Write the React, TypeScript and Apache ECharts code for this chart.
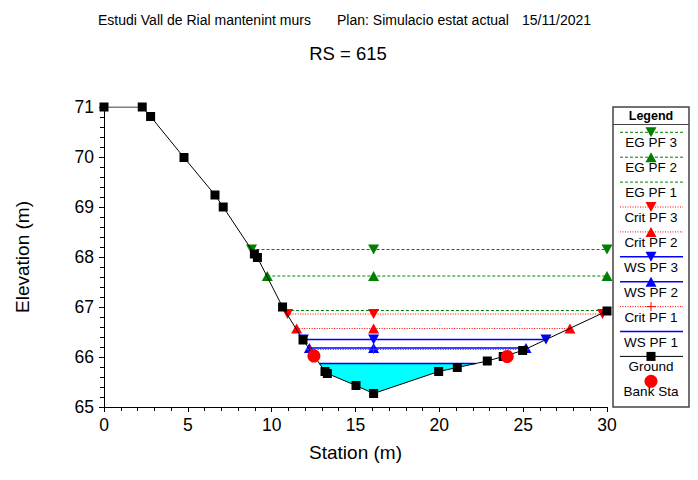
import React, { useEffect, useRef } from 'react';
import * as echarts from 'echarts';

const FONT = '"Liberation Sans", Arial, Helvetica, sans-serif';

// ---- Data ----
const groundX = [0, 2.28, 2.78, 4.77, 6.62, 7.11, 8.97, 9.15, 10.65, 11.87, 13.18, 13.32, 15.03, 16.08, 19.96, 21.07, 22.86, 23.81, 24.97, 30];
const groundY = [71, 71, 70.81, 69.99, 69.24, 69.0, 68.06, 67.99, 67.0, 66.34, 65.71, 65.67, 65.43, 65.27, 65.71, 65.79, 65.92, 66.01, 66.13, 66.92];
const bankX = [12.52, 24.05];
const bankY = [66.02, 66.01];

const profileNames = ['EG PF 3', 'EG PF 2', 'EG PF 1', 'Crit PF 3', 'Crit PF 2', 'WS PF 3', 'WS PF 2', 'Crit PF 1', 'WS PF 1'];
const profileElev = [68.15, 67.62, 66.93, 66.86, 66.57, 66.35, 66.18, 66.15, 65.87];
const profileLeft = [8.8, 9.74, 10.85, 10.95, 11.49, 11.89, 12.25, 12.3, 12.85];
const profileRight = [30, 30, 30, 29.73, 27.79, 26.36, 25.17, 25.1, 22.17];
const channelCenter = 16.08;

const legendNames = [...profileNames, 'Ground', 'Bank Sta'];

const xMin = 0, xMax = 30, xStep = 5;
const yMin = 65, yMax = 71, yStep = 1;

const headerTexts = ['Estudi Vall de Rial mantenint murs', 'Plan: Simulacio estat actual', '15/11/2021'];
const subTitle = 'RS = 615';

// ---- Styles ----
const GREEN = '#008000';
const RED = '#FF0000';
const BLUE = '#0000FF';
type Marker = 'down' | 'up' | 'plus' | 'square' | 'circle' | 'none';
type Sty = { color: string; dash: number[] | null; width: number; marker: Marker; line: boolean };
const DASH = [3, 2];
const DOT = [1, 1.5];
const styles: Record<string, Sty> = {
  'EG PF 3': { color: GREEN, dash: DASH, width: 1, marker: 'down', line: true },
  'EG PF 2': { color: GREEN, dash: DASH, width: 1, marker: 'up', line: true },
  'EG PF 1': { color: GREEN, dash: DASH, width: 1, marker: 'none', line: true },
  'Crit PF 3': { color: RED, dash: DOT, width: 1, marker: 'down', line: true },
  'Crit PF 2': { color: RED, dash: DOT, width: 1, marker: 'up', line: true },
  'WS PF 3': { color: BLUE, dash: null, width: 1.5, marker: 'down', line: true },
  'WS PF 2': { color: BLUE, dash: null, width: 1.5, marker: 'up', line: true },
  'Crit PF 1': { color: RED, dash: DOT, width: 1, marker: 'plus', line: true },
  'WS PF 1': { color: BLUE, dash: null, width: 1.5, marker: 'none', line: true },
  'Ground': { color: '#000000', dash: null, width: 1, marker: 'square', line: true },
  'Bank Sta': { color: RED, dash: null, width: 1, marker: 'circle', line: false },
};

const PLUS_PATH = 'path://M4.5,0h1v4.5h4.5v1h-4.5v4.5h-1v-4.5h-4.5v-1h4.5z';
const TRI_W = 11, TRI_H = 10;

function symbolFor(m: Marker) {
  if (m === 'down' || m === 'up') return { symbol: 'triangle', symbolSize: [TRI_W, TRI_H], symbolRotate: m === 'down' ? 180 : 0 };
  if (m === 'plus') return { symbol: PLUS_PATH, symbolSize: 9, symbolRotate: 0 };
  if (m === 'square') return { symbol: 'rect', symbolSize: 9, symbolRotate: 0 };
  if (m === 'circle') return { symbol: 'circle', symbolSize: 13, symbolRotate: 0 };
  return { symbol: 'none', symbolSize: 0, symbolRotate: 0 };
}

function legendGraphic(): any[] {
  const L = 613, T = 107, W = 76, H = 300;
  const cx = L + W / 2;
  const hw = TRI_W / 2, hh = TRI_H / 2;
  const els: any[] = [];
  els.push({ type: 'rect', shape: { x: L, y: T, width: W, height: H }, style: { fill: '#fff', stroke: '#444', lineWidth: 1.5 }, z: 10 });
  els.push({ type: 'text', x: cx, y: T + 8.5, style: { text: 'Legend', fontSize: 12.5, fontWeight: 'bold', fontFamily: FONT, fill: '#000', align: 'center', verticalAlign: 'middle' }, z: 11 });
  els.push({ type: 'line', shape: { x1: L, y1: T + 17.5, x2: L + W, y2: T + 17.5 }, style: { stroke: '#444', lineWidth: 1 }, z: 11 });
  legendNames.forEach((name, i) => {
    const s = styles[name];
    const ly = T + 25.3 + 24.9 * i;
    if (s.line) {
      els.push({ type: 'line', shape: { x1: L + 7, y1: ly, x2: L + W - 6, y2: ly }, style: { stroke: s.color, lineWidth: s.width, lineDash: s.dash || undefined }, z: 11 });
    }
    if (s.marker === 'down') {
      els.push({ type: 'polygon', shape: { points: [[cx - hw, ly - hh], [cx + hw, ly - hh], [cx, ly + hh]] }, style: { fill: s.color }, z: 12 });
    } else if (s.marker === 'up') {
      els.push({ type: 'polygon', shape: { points: [[cx - hw, ly + hh], [cx + hw, ly + hh], [cx, ly - hh]] }, style: { fill: s.color }, z: 12 });
    } else if (s.marker === 'plus') {
      els.push({ type: 'line', shape: { x1: cx - 4.5, y1: ly, x2: cx + 4.5, y2: ly }, style: { stroke: s.color, lineWidth: 1 }, z: 12 });
      els.push({ type: 'line', shape: { x1: cx, y1: ly - 4.5, x2: cx, y2: ly + 4.5 }, style: { stroke: s.color, lineWidth: 1 }, z: 12 });
    } else if (s.marker === 'square') {
      els.push({ type: 'rect', shape: { x: cx - 4.5, y: ly - 4.5, width: 9, height: 9 }, style: { fill: s.color }, z: 12 });
    } else if (s.marker === 'circle') {
      els.push({ type: 'circle', shape: { cx, cy: ly, r: 6.5 }, style: { fill: s.color }, z: 12 });
    }
    els.push({ type: 'text', x: cx, y: ly + 10.5, style: { text: name, fontSize: 13.5, fontFamily: FONT, fill: '#000', align: 'center', verticalAlign: 'middle' }, z: 12 });
  });
  return els;
}

export default function App() {
  const ref = useRef<HTMLDivElement>(null);
  useEffect(() => {
    if (!ref.current) return;
    const chart = echarts.init(ref.current, null, { renderer: 'svg' });

    const ground = groundX.map((x, i) => [x, groundY[i]]);
    const wsIdx = profileNames.indexOf('WS PF 1');
    const wsY = profileElev[wsIdx];
    const wsL = profileLeft[wsIdx];
    const wsR = profileRight[wsIdx];
    const fillPoly: number[][] = [[wsL, wsY]];
    groundX.forEach((x, i) => { if (x > wsL && x < wsR) fillPoly.push([x, groundY[i]]); });
    fillPoly.push([wsR, wsY]);

    const series: any[] = [];
    series.push({
      type: 'custom',
      name: 'fill',
      data: fillPoly,
      encode: { x: 0, y: 1 },
      z: 1,
      silent: true,
      renderItem: (params: any, api: any) => {
        if (params.dataIndex !== 0) return null;
        const pts = fillPoly.map((p) => api.coord(p));
        return { type: 'polygon', shape: { points: pts }, style: { fill: '#00FFFF', stroke: 'none' } };
      },
    });

    profileNames.forEach((name, i) => {
      const s = styles[name];
      const sym = symbolFor(s.marker);
      series.push({
        type: 'line',
        name,
        data: [[profileLeft[i], profileElev[i]], [channelCenter, profileElev[i]], [profileRight[i], profileElev[i]]],
        symbol: sym.symbol,
        symbolSize: sym.symbolSize,
        symbolRotate: sym.symbolRotate,
        showSymbol: s.marker !== 'none',
        lineStyle: { color: s.color, width: s.width, type: s.dash || 'solid' },
        itemStyle: { color: s.color, borderWidth: 0 },
        z: 3,
        silent: true,
      });
    });

    const gs = symbolFor('square');
    series.push({
      type: 'line',
      name: 'Ground',
      data: ground,
      symbol: gs.symbol,
      symbolSize: gs.symbolSize,
      lineStyle: { color: '#000', width: 1 },
      itemStyle: { color: '#000', borderWidth: 0 },
      z: 4,
      silent: true,
    });

    const bs = symbolFor('circle');
    series.push({
      type: 'scatter',
      name: 'Bank Sta',
      data: bankX.map((x, i) => [x, bankY[i]]),
      symbol: bs.symbol,
      symbolSize: bs.symbolSize,
      itemStyle: { color: RED, opacity: 1 },
      z: 5,
      silent: true,
    });

    const axisCommon = {
      type: 'value',
      axisLine: { show: true, onZero: false, lineStyle: { color: '#000', width: 1 } },
      axisTick: { show: true, length: 5, lineStyle: { color: '#000', width: 1 } },
      minorTick: { show: true, splitNumber: 5, length: 4, lineStyle: { color: '#000', width: 1 } },
      splitLine: { show: false },
      minorSplitLine: { show: false },
    };

    const hdr = { fontSize: 14, fontFamily: FONT, fill: '#000', align: 'left', verticalAlign: 'middle' };

    chart.setOption({
      animation: false,
      backgroundColor: '#fff',
      grid: { left: 104, top: 107, right: 91, bottom: 73 },
      xAxis: {
        ...axisCommon,
        min: xMin,
        max: xMax,
        interval: xStep,
        axisLabel: { fontSize: 17.5, color: '#000', fontFamily: FONT, margin: 9 },
        name: 'Station (m)',
        nameLocation: 'middle',
        nameGap: 36,
        nameTextStyle: { fontSize: 19, color: '#000', fontFamily: FONT },
      },
      yAxis: {
        ...axisCommon,
        min: yMin,
        max: yMax,
        interval: yStep,
        axisLabel: { fontSize: 17.5, color: '#000', fontFamily: FONT, margin: 10 },
        name: 'Elevation (m)',
        nameLocation: 'middle',
        nameGap: 72,
        nameRotate: 90,
        nameTextStyle: { fontSize: 19, color: '#000', fontFamily: FONT },
      },
      graphic: [
        { type: 'text', x: 98, y: 19.5, style: { ...hdr, text: headerTexts[0] } },
        { type: 'text', x: 337, y: 19.5, style: { ...hdr, text: headerTexts[1] } },
        { type: 'text', x: 522, y: 19.5, style: { ...hdr, text: headerTexts[2] } },
        { type: 'text', x: 348, y: 53, style: { text: subTitle, fontSize: 18.5, fontFamily: FONT, fill: '#000', align: 'center', verticalAlign: 'middle' } },
        ...legendGraphic(),
      ],
      series,
    });
    return () => chart.dispose();
  }, []);
  return <div ref={ref} style={{ position: 'fixed', left: 0, top: 0, width: 698, height: 480 }} />;
}
